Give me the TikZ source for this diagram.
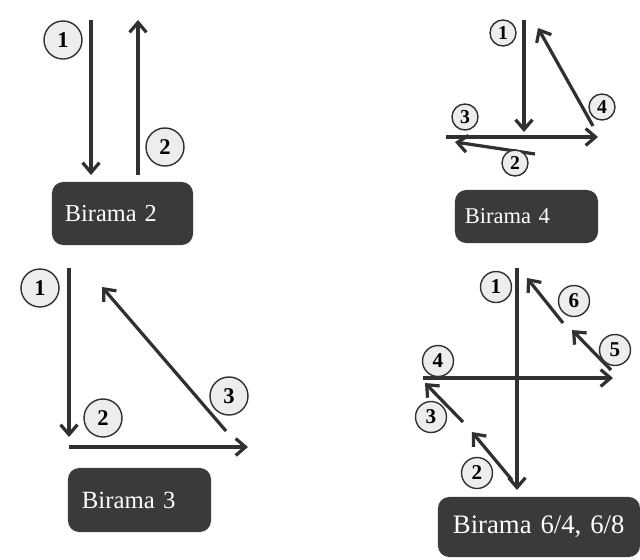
\documentclass[tikz,border=0pt]{standalone}
\usepackage{fontspec}
\setmainfont{Liberation Serif}
\usetikzlibrary{arrows.meta}
\definecolor{boxgray}{HTML}{3A3A3A}
\definecolor{inkgray}{HTML}{303030}
\definecolor{numfill}{HTML}{EDEDED}
\begin{document}
\begin{tikzpicture}[x=0.025cm,y=-0.025cm,
    stroke/.style={draw=inkgray,line width=2.3pt,-{Straight Barb[length=7pt,width=12pt]}},
    num/.style={circle,draw=inkgray,line width=1pt,fill=numfill,text=black,inner sep=0pt,minimum size=#1},
    bar/.style={fill=boxgray,rounded corners=8pt,text=white,align=left,inner ysep=0pt}]
    \useasboundingbox (0,0) rectangle (640,560);
    % Birama 2
    \draw[stroke] (91,20) -- (91,175);
    \draw[stroke] (138,175) -- (138,20);
    \node[num=0.95cm,font=\bfseries\fontsize{16}{16}\selectfont] (b2one) at (63,40) {1};
    \node[num=0.95cm,font=\bfseries\fontsize{16}{16}\selectfont] (b2two) at (165,147) {2};
    \node[bar,text width=2.875cm,inner xsep=0.325cm,minimum height=1.575cm,font=\fontsize{17.3}{18}\selectfont] (b2) at (122.5,213.5) {Birama~2};
    % Birama 4
    \draw[stroke] (524,20) -- (524,132);
    \draw[stroke] (446,137) -- (598,137);
    \draw[stroke] (535,154) -- (455,142);
    \draw[stroke] (593,126) -- (538,28);
    \node[num=0.65cm,font=\bfseries\fontsize{14}{14}\selectfont] (b4one) at (503,33) {1};
    \node[num=0.65cm,font=\bfseries\fontsize{14}{14}\selectfont] (b4three) at (465,117) {3};
    \node[num=0.65cm,font=\bfseries\fontsize{14}{14}\selectfont] (b4two) at (515,163) {2};
    \node[num=0.65cm,font=\bfseries\fontsize{14}{14}\selectfont] (b4four) at (602,107) {4};
    \node[bar,text width=3.075cm,inner xsep=0.25cm,minimum height=1.325cm,font=\fontsize{16}{17}\selectfont] (b4) at (526.5,216.5) {Birama~4};
    % Birama 3
    \draw[stroke] (69,268) -- (69,437);
    \draw[stroke] (69,447) -- (248,447);
    \draw[stroke] (226,431) -- (102,287);
    \node[num=0.95cm,font=\bfseries\fontsize{16}{16}\selectfont] (b3one) at (40,288) {1};
    \node[num=0.95cm,font=\bfseries\fontsize{16}{16}\selectfont] (b3two) at (103,418) {2};
    \node[num=0.95cm,font=\bfseries\fontsize{16}{16}\selectfont] (b3three) at (229,396) {3};
    \node[bar,text width=2.875cm,inner xsep=0.35cm,minimum height=1.6cm,font=\fontsize{17.6}{18}\selectfont] (b3) at (139.5,500) {Birama~3};
    % Birama 6/4, 6/8
    \draw[stroke] (517,268) -- (517,490);
    \draw[stroke] (423,378) -- (613,378);
    \draw[stroke] (463,422) -- (425,383);
    \draw[stroke] (512,480) -- (472,432);
    \draw[stroke] (611,370) -- (572,330);
    \draw[stroke] (563,323) -- (527,278);
    \node[num=0.775cm,font=\bfseries\fontsize{15}{15}\selectfont] (b6one) at (496,287) {1};
    \node[num=0.775cm,font=\bfseries\fontsize{15}{15}\selectfont] (b6six) at (574,301) {6};
    \node[num=0.775cm,font=\bfseries\fontsize{15}{15}\selectfont] (b6five) at (615,350) {5};
    \node[num=0.775cm,font=\bfseries\fontsize{15}{15}\selectfont] (b6four) at (438,361) {4};
    \node[num=0.775cm,font=\bfseries\fontsize{15}{15}\selectfont] (b6three) at (431,417) {3};
    \node[num=0.775cm,font=\bfseries\fontsize{15}{15}\selectfont] (b6two) at (477,473) {2};
    \node[bar,text width=4.3cm,inner xsep=0.375cm,minimum height=1.5cm,font=\fontsize{19}{20}\selectfont] (b6) at (539,527) {Birama 6/4,~6/8};
\end{tikzpicture}
\end{document}
